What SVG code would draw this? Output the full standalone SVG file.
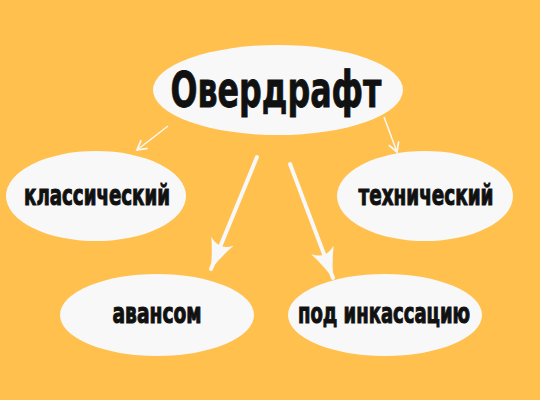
<svg xmlns="http://www.w3.org/2000/svg" width="540" height="400" viewBox="0 0 540 400">
<style>
.node ellipse{fill:#F8F8F8}
.node text{font-family:"DejaVu Sans Condensed","Liberation Sans Narrow","Liberation Sans",sans-serif;font-weight:bold;fill:#111;stroke:#111;stroke-width:0.8;text-anchor:middle}
.node text.sub{font-size:22px}
.thin{stroke:#F8F8F8;stroke-width:1.5;fill:none}
.thick{stroke:#F8F8F8;stroke-width:4;fill:none;stroke-linecap:round}
</style>
<defs>
<marker id="big" markerUnits="userSpaceOnUse" markerWidth="40" markerHeight="30" viewBox="-32 -15 34 30" refX="0" refY="0" orient="auto">
<path d="M1,0 Q-14,-4 -30,-12 Q-20,0 -30,12 Q-14,4 1,0 Z" fill="#F8F8F8"/>
</marker>
<marker id="small" markerUnits="userSpaceOnUse" markerWidth="14" markerHeight="14" viewBox="-10 -6 12 12" refX="0" refY="0" orient="auto">
<path d="M-8,-4.5 L0,0 L-8,4.5" fill="none" stroke="#F8F8F8" stroke-width="1.5"/>
</marker>
</defs>
<rect width="540" height="400" fill="#FFC04D"/>
<g id="connectors">
<line class="thin" x1="168" y1="126" x2="137" y2="150" marker-end="url(#small)"/>
<line class="thin" x1="384" y1="117" x2="397" y2="152" marker-end="url(#small)"/>
<line class="thick" x1="257" y1="157" x2="211" y2="269" marker-end="url(#big)"/>
<line class="thick" x1="290" y1="164" x2="333" y2="278" marker-end="url(#big)"/>
</g>
<g id="n-overdraft" class="node">
<ellipse cx="278" cy="90" rx="125" ry="45"/>
<text x="276" y="107" font-size="50" textLength="211" lengthAdjust="spacingAndGlyphs">Овердрафт</text>
</g>
<g id="n-classic" class="node">
<ellipse cx="96" cy="196" rx="90" ry="45"/>
<text class="sub" transform="translate(97,205) scale(1,1.32)" textLength="146" lengthAdjust="spacingAndGlyphs">классический</text>
</g>
<g id="n-tech" class="node">
<ellipse cx="425" cy="196" rx="88" ry="45"/>
<text class="sub" transform="translate(426,205) scale(1,1.32)" textLength="135" lengthAdjust="spacingAndGlyphs">технический</text>
</g>
<g id="n-avans" class="node">
<ellipse cx="157" cy="315" rx="97" ry="41"/>
<text class="sub" transform="translate(157,323) scale(1,1.32)" textLength="89" lengthAdjust="spacingAndGlyphs">авансом</text>
</g>
<g id="n-inkasso" class="node">
<ellipse cx="385" cy="315" rx="97" ry="41"/>
<text class="sub" transform="translate(384,323) scale(1,1.32)" textLength="172" lengthAdjust="spacingAndGlyphs">под инкассацию</text>
</g>
</svg>
